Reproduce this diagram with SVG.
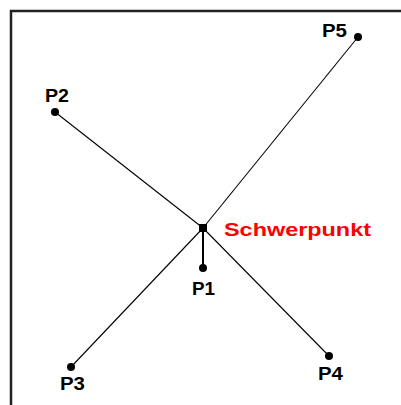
<svg xmlns="http://www.w3.org/2000/svg" width="401" height="405" viewBox="0 0 401 405">
<style>
.lbl{font-family:"Liberation Sans",Arial,sans-serif;font-weight:bold;font-size:18px;fill:#000}
.red{fill:#ff0000}
.ln{stroke:#000;stroke-width:1.1;fill:none}
.dot{fill:#000}
</style>
<rect x="0" y="0" width="401" height="405" fill="#fff"/>
<path d="M11 405 V11 H401" stroke="#222" stroke-width="2.5" fill="none"/>
<g id="connectors">
<line class="ln" x1="203" y1="228" x2="358" y2="37"/>
<line class="ln" x1="203" y1="228" x2="55" y2="112"/>
<line class="ln" x1="203" y1="228" x2="71" y2="367"/>
<line class="ln" x1="203" y1="228" x2="329" y2="356"/>
<line class="ln" x1="203" y1="228" x2="203" y2="268" style="stroke-width:2"/>
</g>
<g id="schwerpunkt">
<rect class="dot" x="199" y="224" width="8" height="8"/>
<text class="lbl red" x="224" y="236" textLength="147" lengthAdjust="spacingAndGlyphs">Schwerpunkt</text>
</g>
<g id="p1"><circle class="dot" cx="203" cy="268" r="4"/><text class="lbl" x="192" y="295" textLength="23" lengthAdjust="spacingAndGlyphs">P1</text></g>
<g id="p2"><circle class="dot" cx="55" cy="112" r="4"/><text class="lbl" x="45" y="102" textLength="24" lengthAdjust="spacingAndGlyphs">P2</text></g>
<g id="p3"><circle class="dot" cx="71" cy="367" r="4"/><text class="lbl" x="60" y="390" textLength="25" lengthAdjust="spacingAndGlyphs">P3</text></g>
<g id="p4"><circle class="dot" cx="329" cy="356" r="4"/><text class="lbl" x="318" y="380" textLength="25" lengthAdjust="spacingAndGlyphs">P4</text></g>
<g id="p5"><circle class="dot" cx="358" cy="37" r="4"/><text class="lbl" x="322" y="37" textLength="25" lengthAdjust="spacingAndGlyphs">P5</text></g>
</svg>
